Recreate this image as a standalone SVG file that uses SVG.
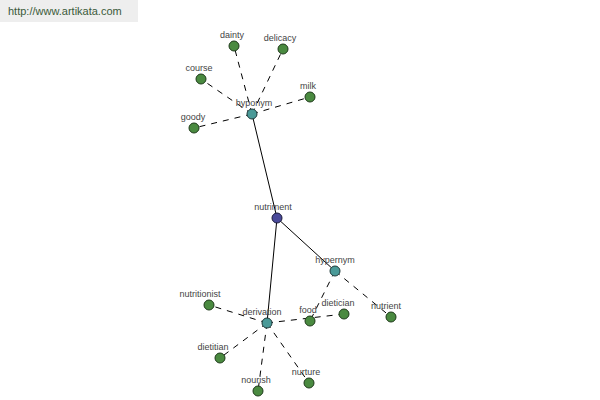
<svg xmlns="http://www.w3.org/2000/svg" width="600" height="400" viewBox="0 0 600 400">
<style>
text{font-family:"Liberation Sans",Arial,sans-serif;font-size:9px;fill:#444;text-anchor:middle}
.leaf{fill:#4a8a40;stroke:#1e3a1a;stroke-width:1}
.mid{fill:#4a9a98;stroke:#1e3a3a;stroke-width:1}
.root{fill:#4a4a9a;stroke:#1a1a3a;stroke-width:1}
.s{stroke:#000;stroke-width:1;fill:none}
.d{stroke:#000;stroke-width:1;fill:none;stroke-dasharray:6,6}
</style>
<rect x="0" y="0" width="138" height="22" fill="#eeeeee"/>
<text x="8" y="15" style="font-size:11px;text-anchor:start;fill:#3a5a3a">http://www.artikata.com</text>
<g id="connectors">
<line class="s" x1="277" y1="218" x2="252" y2="114"/>
<line class="s" x1="277" y1="218" x2="335" y2="271"/>
<line class="s" x1="277" y1="218" x2="267" y2="323"/>
<line class="d" x1="252" y1="114" x2="234" y2="46"/>
<line class="d" x1="252" y1="114" x2="283" y2="49"/>
<line class="d" x1="252" y1="114" x2="201" y2="79"/>
<line class="d" x1="252" y1="114" x2="310" y2="97"/>
<line class="d" x1="252" y1="114" x2="194" y2="128"/>
<line class="d" x1="335" y1="271" x2="310" y2="321"/>
<line class="d" x1="335" y1="271" x2="391" y2="317"/>
<line class="d" x1="267" y1="323" x2="209" y2="305"/>
<line class="d" x1="267" y1="323" x2="344" y2="314"/>
<line class="d" x1="267" y1="323" x2="220" y2="358"/>
<line class="d" x1="267" y1="323" x2="258" y2="391"/>
<line class="d" x1="267" y1="323" x2="309" y2="383"/>
</g>
<g id="dainty"><circle class="leaf" cx="234" cy="46" r="5"/><text x="232" y="38">dainty</text></g>
<g id="delicacy"><circle class="leaf" cx="283" cy="49" r="5"/><text x="280" y="41">delicacy</text></g>
<g id="course"><circle class="leaf" cx="201" cy="79" r="5"/><text x="199" y="71">course</text></g>
<g id="milk"><circle class="leaf" cx="310" cy="97" r="5"/><text x="308" y="89">milk</text></g>
<g id="goody"><circle class="leaf" cx="194" cy="128" r="5"/><text x="193" y="120">goody</text></g>
<g id="hyponym"><circle class="mid" cx="252" cy="114" r="5"/><text x="254" y="106">hyponym</text></g>
<g id="nutriment"><circle class="root" cx="277" cy="218" r="5"/><text x="273" y="210">nutriment</text></g>
<g id="hypernym"><circle class="mid" cx="335" cy="271" r="5"/><text x="335" y="263">hypernym</text></g>
<g id="derivation"><circle class="mid" cx="267" cy="323" r="5"/><text x="262" y="315">derivation</text></g>
<g id="nutritionist"><circle class="leaf" cx="209" cy="305" r="5"/><text x="200" y="297">nutritionist</text></g>
<g id="food"><circle class="leaf" cx="310" cy="321" r="5"/><text x="308" y="313">food</text></g>
<g id="dietician"><circle class="leaf" cx="344" cy="314" r="5"/><text x="338" y="306">dietician</text></g>
<g id="nutrient"><circle class="leaf" cx="391" cy="317" r="5"/><text x="386" y="309">nutrient</text></g>
<g id="dietitian"><circle class="leaf" cx="220" cy="358" r="5"/><text x="213" y="350">dietitian</text></g>
<g id="nourish"><circle class="leaf" cx="258" cy="391" r="5"/><text x="256" y="383">nourish</text></g>
<g id="nurture"><circle class="leaf" cx="309" cy="383" r="5"/><text x="306" y="375">nurture</text></g>
</svg>
